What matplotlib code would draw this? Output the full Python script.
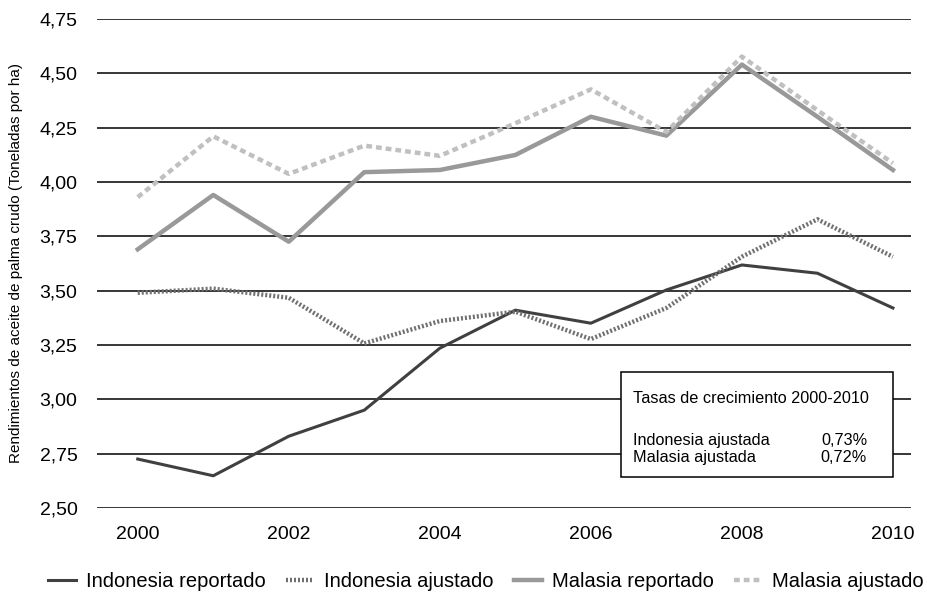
import matplotlib
matplotlib.use('Agg')
import matplotlib.pyplot as plt
from matplotlib.patches import Rectangle

plt.rcParams['font.family'] = ['Liberation Sans', 'DejaVu Sans']

# datos
years = [2000, 2001, 2002, 2003, 2004, 2005, 2006, 2007, 2008, 2009, 2010]
indonesia_rep = [2.725, 2.648, 2.83, 2.95, 3.235, 3.41, 3.35, 3.503, 3.618, 3.58, 3.42]
indonesia_adj = [3.49, 3.509, 3.467, 3.257, 3.36, 3.403, 3.277, 3.42, 3.656, 3.828, 3.656]
malasia_rep = [3.69, 3.94, 3.725, 4.045, 4.055, 4.124, 4.30, 4.213, 4.54, 4.30, 4.055]
malasia_adj = [3.93, 4.21, 4.037, 4.167, 4.12, 4.27, 4.426, 4.23, 4.577, 4.33, 4.086]

yticks = [2.50, 2.75, 3.00, 3.25, 3.50, 3.75, 4.00, 4.25, 4.50, 4.75]
xticks = [2000, 2002, 2004, 2006, 2008, 2010]

box_title = 'Tasas de crecimiento 2000-2010'
box_rows = [('Indonesia ajustada', '0,73%'), ('Malasia ajustada', '0,72%')]

fig = plt.figure(figsize=(9.27, 5.92), dpi=100)
ax = fig.add_axes([0.1046, 0.142, 0.8782, 0.826])

for y in yticks:
    ax.axhline(y, color='black', lw=1.1, zorder=1)

ax.plot(years, indonesia_rep, color='#404040', lw=2.2, label='Indonesia reportado', zorder=3)
ax.plot(years, indonesia_adj, color='#707070', lw=3.2, linestyle=(0, (0.45, 0.45)),
        label='Indonesia ajustado', zorder=3)
ax.plot(years, malasia_rep, color='#999999', lw=3.2, label='Malasia reportado', zorder=3)
ax.plot(years, malasia_adj, color='#c0c0c0', lw=3.2, linestyle=(0, (1.3, 0.9)),
        label='Malasia ajustado', zorder=3)

ax.set_xlim(1999.46, 2010.24)
ax.set_ylim(2.50, 4.75)
ax.set_yticks(yticks)
ax.set_yticklabels([('%.2f' % v).replace('.', ',') for v in yticks])
ax.set_xticks(xticks)
ax.set_xticklabels([str(v) for v in xticks])
ax.tick_params(length=0, labelsize=14, pad=14)
ax.tick_params(axis='x', pad=13)
for s in ax.spines.values():
    s.set_visible(False)

ax.set_ylabel('Rendimientos de aceite de palma crudo (Toneladas por ha)', fontsize=11, labelpad=12)

# cuadro de tasas
ax.add_patch(Rectangle((0.644, 0.063), 0.334, 0.215, transform=ax.transAxes,
                       facecolor='white', edgecolor='black', lw=1.1, zorder=5))
ax.text(0.658, 0.223, box_title, transform=ax.transAxes, fontsize=11.7,
        va='center', ha='left', zorder=6)
for i, (name, val) in enumerate(box_rows):
    yy = 0.137 - i * 0.033
    ax.text(0.658, yy, name, transform=ax.transAxes, fontsize=11.7, va='center', ha='left', zorder=6)
    ax.text(0.946, yy, val, transform=ax.transAxes, fontsize=11.7, va='center', ha='right', zorder=6)

fig.legend(loc='center', bbox_to_anchor=(0.524, 0.018), ncol=4, frameon=False,
           fontsize=14.5, handlelength=1.4, handletextpad=0.5, columnspacing=1.0)

fig.savefig('out.png', dpi=100)
